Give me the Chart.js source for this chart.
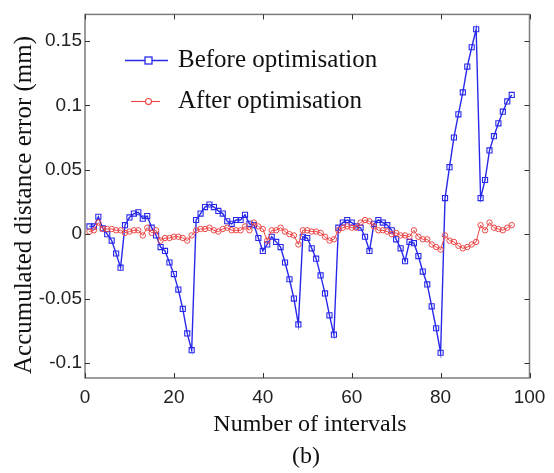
<!DOCTYPE html>
<html>
<head>
<meta charset="utf-8">
<script src="https://cdn.jsdelivr.net/npm/chart.js@4.4.1/dist/chart.umd.min.js"></script>
<style>
  html, body { margin: 0; padding: 0; background: #fff; }
  #chart { display: block; }
</style>
</head>
<body>
<canvas id="chart" width="554" height="473"></canvas>
<script>
  // Interval numbers along the x axis
  const intervals = [
    1, 2, 3, 4, 5, 6, 7, 8, 9, 10, 11, 12, 13, 14, 15, 16,
    17, 18, 19, 20, 21, 22, 23, 24, 25, 26, 27, 28, 29, 30, 31, 32,
    33, 34, 35, 36, 37, 38, 39, 40, 41, 42, 43, 44, 45, 46, 47, 48,
    49, 50, 51, 52, 53, 54, 55, 56, 57, 58, 59, 60, 61, 62, 63, 64,
    65, 66, 67, 68, 69, 70, 71, 72, 73, 74, 75, 76, 77, 78, 79, 80,
    81, 82, 83, 84, 85, 86, 87, 88, 89, 90, 91, 92, 93, 94, 95, 96
  ];

  // Accumulated distance error (mm) before optimisation
  const beforeValues = [
    0.006, 0.006, 0.0135, 0.0045, 0.000, -0.005, -0.015, -0.026,
    0.007, 0.013, 0.016, 0.017, 0.012, 0.014, 0.005, -0.001,
    -0.010, -0.013, -0.022, -0.031, -0.043, -0.058, -0.077, -0.090,
    0.011, 0.016, 0.021, 0.023, 0.021, 0.018, 0.016, 0.010,
    0.008, 0.011, 0.011, 0.015, 0.008, 0.007, -0.003, -0.013,
    -0.008, -0.002, -0.006, -0.010, -0.022, -0.035, -0.050, -0.070,
    -0.002, -0.003, -0.011, -0.019, -0.032, -0.046, -0.063, -0.078,
    0.005, 0.009, 0.011, 0.009, 0.006, 0.005, -0.002, -0.013,
    0.008, 0.011, 0.009, 0.007, 0.003, -0.004, -0.011, -0.021,
    -0.006, -0.007, -0.017, -0.029, -0.039, -0.056, -0.073, -0.092,
    0.028, 0.052, 0.075, 0.093, 0.110, 0.130, 0.145, 0.159,
    0.028, 0.042, 0.065, 0.076, 0.086, 0.095, 0.103, 0.108
  ];

  // Accumulated distance error (mm) after optimisation
  const afterValues = [
    0.002, 0.003, 0.009, 0.004, 0.004, 0.004, 0.003, 0.003,
    0.001, 0.002, 0.003, 0.003, -0.001, 0.005, 0.001, 0.003,
    -0.005, -0.003, -0.003, -0.002, -0.002, -0.003, -0.005, -0.001,
    0.003, 0.004, 0.004, 0.005, 0.003, 0.002, 0.004, 0.005,
    0.003, 0.003, 0.003, 0.006, 0.003, 0.009, 0.006, 0.004,
    -0.005, 0.003, 0.003, 0.005, 0.002, 0.000, -0.001, -0.008,
    0.003, 0.003, 0.002, 0.002, 0.001, -0.002, -0.005, -0.004,
    0.003, 0.005, 0.006, 0.005, 0.005, 0.009, 0.011, 0.010,
    0.006, 0.003, 0.003, 0.002, 0.000, 0.001, -0.001, -0.001,
    -0.002, 0.003, -0.002, -0.004, -0.004, -0.008, -0.010, -0.012,
    -0.001, -0.005, -0.006, -0.009, -0.011, -0.010, -0.008, -0.006,
    0.007, 0.003, 0.009, 0.005, 0.004, 0.003, 0.005, 0.007
  ];

  const xTicks = [0, 20, 40, 60, 80, 100];
  const yTicks = [-0.1, -0.05, 0, 0.05, 0.1, 0.15];

  const seriesNames = ['Before optimisation', 'After optimisation'];
  const blue = 'rgb(40, 40, 235)';
  const red = 'rgb(235, 70, 70)';
  const boxColor = '#7c7c7c';

  function toPoints(values) {
    return values.map((v, i) => ({ x: intervals[i], y: v }));
  }

  // Box, inward ticks, legend and titles drawn on top of the chart
  const framePlugin = {
    id: 'frame',
    afterDraw(chart) {
      const ctx = chart.ctx;
      const xs = chart.scales.x;
      const ys = chart.scales.y;
      const a = chart.chartArea;
      ctx.save();

      ctx.strokeStyle = boxColor;
      ctx.lineWidth = 1.5;
      ctx.strokeRect(a.left, a.top, a.right - a.left, a.bottom - a.top);

      ctx.strokeStyle = '#333';
      ctx.lineWidth = 1;
      const tl = 5;
      xTicks.forEach(v => {
        const px = Math.round(xs.getPixelForValue(v)) + 0.5;
        ctx.beginPath();
        ctx.moveTo(px, a.bottom); ctx.lineTo(px, a.bottom - tl);
        ctx.moveTo(px, a.top); ctx.lineTo(px, a.top + tl);
        ctx.stroke();
      });
      yTicks.forEach(v => {
        const py = Math.round(ys.getPixelForValue(v)) + 0.5;
        ctx.beginPath();
        ctx.moveTo(a.left, py); ctx.lineTo(a.left + tl, py);
        ctx.moveTo(a.right, py); ctx.lineTo(a.right - tl, py);
        ctx.stroke();
      });

      // legend
      ctx.font = '25px "Liberation Serif", "Times New Roman", serif';
      ctx.fillStyle = '#111';
      ctx.textBaseline = 'middle';
      ctx.textAlign = 'left';

      ctx.strokeStyle = blue;
      ctx.lineWidth = 1.3;
      ctx.beginPath();
      ctx.moveTo(125, 60.5); ctx.lineTo(168, 60.5);
      ctx.stroke();
      ctx.fillStyle = '#fff';
      ctx.fillRect(145, 57, 7, 7);
      ctx.strokeRect(145, 57, 7, 7);
      ctx.fillStyle = '#111';
      ctx.fillText(seriesNames[0], 178, 60);

      ctx.strokeStyle = red;
      ctx.lineWidth = 1.1;
      ctx.beginPath();
      ctx.moveTo(131, 101.5); ctx.lineTo(160, 101.5);
      ctx.stroke();
      ctx.fillStyle = '#fff';
      ctx.beginPath();
      ctx.arc(148.5, 101.5, 3, 0, Math.PI * 2);
      ctx.fill();
      ctx.stroke();
      ctx.fillStyle = '#111';
      ctx.fillText(seriesNames[1], 178, 101);

      // axis titles and caption
      ctx.textAlign = 'center';
      ctx.font = '24px "Liberation Serif", "Times New Roman", serif';
      ctx.fillText('Number of intervals', 310, 425);
      ctx.fillText('(b)', 306, 457);

      ctx.save();
      ctx.translate(24, 205);
      ctx.rotate(-Math.PI / 2);
      ctx.font = '25px "Liberation Serif", "Times New Roman", serif';
      ctx.fillText('Accumulated distance error (mm)', 0, 0);
      ctx.restore();

      ctx.restore();
    }
  };

  const chart = new Chart(document.getElementById('chart').getContext('2d'), {
    type: 'line',
    data: {
      datasets: [{
        label: seriesNames[0],
        data: toPoints(beforeValues),
        borderColor: blue,
        borderWidth: 1.4,
        pointStyle: 'rect',
        pointRadius: 3.6,
        pointBorderWidth: 1.1,
        pointBorderColor: blue,
        pointBackgroundColor: 'rgba(255,255,255,0)',
        tension: 0,
        order: 1
      }, {
        label: seriesNames[1],
        data: toPoints(afterValues),
        borderColor: red,
        borderWidth: 1,
        pointStyle: 'circle',
        pointRadius: 2.7,
        pointBorderWidth: 1,
        pointBorderColor: red,
        pointBackgroundColor: 'rgba(255,255,255,0)',
        tension: 0,
        order: 0
      }]
    },
    options: {
      responsive: false,
      animation: false,
      devicePixelRatio: 1,
      layout: { padding: { top: 13, right: 24.5, left: 0, bottom: 0 } },
      plugins: {
        legend: { display: false },
        tooltip: { enabled: false }
      },
      scales: {
        x: {
          type: 'linear',
          min: 0,
          max: 100,
          border: { display: false },
          grid: { display: false, drawTicks: false },
          ticks: {
            stepSize: 20,
            padding: 8,
            color: '#222',
            font: { family: '"Liberation Sans", Arial, sans-serif', size: 19 },
            maxRotation: 0
          },
          afterFit(scale) { scale.height = 95; }
        },
        y: {
          type: 'linear',
          min: -0.1116,
          max: 0.1705,
          border: { display: false },
          grid: { display: false, drawTicks: false },
          ticks: {
            padding: 3,
            color: '#222',
            font: { family: '"Liberation Sans", Arial, sans-serif', size: 19 },
            callback: v => String(v)
          },
          afterBuildTicks(scale) { scale.ticks = yTicks.map(v => ({ value: v })); },
          afterFit(scale) { scale.width = 85; }
        }
      }
    },
    plugins: [framePlugin]
  });
</script>
</body>
</html>
